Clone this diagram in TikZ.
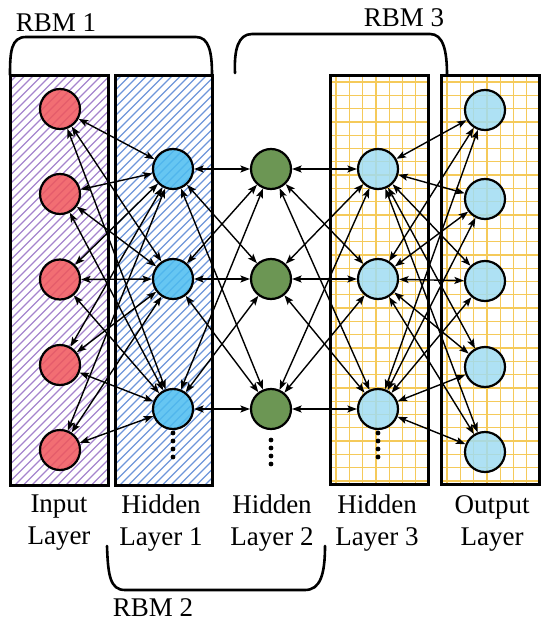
\documentclass[tikz,border=0pt]{standalone}
\usepackage{fontspec}
\setmainfont{Liberation Serif}
\usetikzlibrary{arrows.meta}
\definecolor{hatchpurple}{RGB}{165,132,205}
\definecolor{hatchblue}{RGB}{110,150,218}
\definecolor{gridyellow}{RGB}{245,202,90}
\definecolor{nodered}{RGB}{240,85,90}
\definecolor{nodeblue}{RGB}{75,188,240}
\definecolor{nodegreen}{RGB}{108,150,84}
\definecolor{nodelight}{RGB}{160,220,242}
\tikzset{
  layerbox/.style={draw=black, line width=3pt},
  neuron/.style={circle, minimum size=40pt, inner sep=0pt, draw=black, line width=2.2pt, fill opacity=0.85},
  rednode/.style={neuron, fill=nodered},
  bluenode/.style={neuron, fill=nodeblue},
  greennode/.style={neuron, fill=nodegreen, fill opacity=1},
  lightnode/.style={neuron, fill=nodelight},
  conn/.style={line width=1.4pt, {Stealth[length=9.5pt,width=7pt,inset=2pt]}-{Stealth[length=9.5pt,width=7pt,inset=2pt]}},
  brace/.style={line width=2.6pt, line cap=round},
  lbl/.style={font=\rmfamily\fontsize{27}{32}\selectfont, align=center, inner sep=0pt, anchor=north},
  rbm/.style={font=\rmfamily\fontsize{27}{32}\selectfont, inner sep=0pt, anchor=base},
  dotmark/.style={fill=black, draw=none}
}
\begin{document}
\begin{tikzpicture}[x=1pt,y=-1pt]
\useasboundingbox (0,0) rectangle (550,623);
% hatch input box
\begin{scope}
  \clip (10,76) rectangle (108,485);
  \foreach \a in {0,8.5,...,530} \draw[hatchpurple, line width=1.3pt] (10-420+\a,485) -- ++(440,-440);
\end{scope}
% hatch hidden 1
\begin{scope}
  \clip (115,76) rectangle (212,485);
  \foreach \a in {0,8.5,...,530} \draw[hatchblue, line width=1.3pt] (115-420+\a,485) -- ++(440,-440);
\end{scope}
% grids
\begin{scope}
  \clip (330,76) rectangle (428,484);
  \foreach \a in {0,13.3,...,100} \draw[gridyellow, line width=1.3pt] (336+\a,76) -- (336+\a,484);
  \foreach \a in {0,13.3,...,410} \draw[gridyellow, line width=1.3pt] (330,82+\a) -- (428,82+\a);
\end{scope}
\begin{scope}
  \clip (441,76) rectangle (539,484);
  \foreach \a in {0,13.3,...,100} \draw[gridyellow, line width=1.3pt] (447+\a,76) -- (447+\a,484);
  \foreach \a in {0,13.3,...,410} \draw[gridyellow, line width=1.3pt] (441,82+\a) -- (539,82+\a);
\end{scope}
% boxes
\draw[layerbox] (10,76) rectangle (108,485);
\draw[layerbox] (115,76) rectangle (212,485);
\draw[layerbox] (330,76) rectangle (428,484);
\draw[layerbox] (441,76) rectangle (539,484);
% neurons
\foreach \i/\y in {1/109,2/194,3/279.5,4/365,5/450} \node[rednode] (i\i) at (60,\y) {};
\foreach \i/\y in {1/169,2/279,3/409} {
  \node[bluenode] (a\i) at (173,\y) {};
  \node[greennode] (b\i) at (271,\y) {};
  \node[lightnode] (c\i) at (378,\y) {};
}
\foreach \i/\y in {1/110,2/199,3/281,4/367,5/452} \node[lightnode] (o\i) at (485,\y) {};
% connections
\foreach \p in {1,...,5} \foreach \q in {1,2,3} {
  \draw[conn] (i\p) -- (a\q);
  \draw[conn] (c\q) -- (o\p);
}
\foreach \p in {1,2,3} \foreach \q in {1,2,3} {
  \draw[conn] (a\p) -- (b\q);
  \draw[conn] (b\p) -- (c\q);
}
% dots
\foreach \x/\s in {173/433,271/440,378/433} \foreach \k in {0,1,2,3} \fill[dotmark] (\x,\s+8*\k) circle (2.4pt);
% labels
\node[lbl] (l1) at (59,495) {Input\\Layer};
\node[lbl] (l2) at (161,495) {Hidden\\Layer 1};
\node[lbl] (l3) at (272,495) {Hidden\\Layer 2};
\node[lbl] (l4) at (377,495) {Hidden\\Layer 3};
\node[lbl] (l5) at (492,495) {Output\\Layer};
% brackets
\draw[brace] (10,75) .. controls (10,52) and (11,37) .. (26,37) -- (196,37) .. controls (209,37) and (212,52) .. (212,75);
\draw[brace] (235,73) .. controls (234,50) and (238,34) .. (252,34) -- (430,34) .. controls (443,34) and (447,50) .. (447,75);
\draw[brace] (107,546) .. controls (108,575) and (110,590) .. (125,590) -- (305,590) .. controls (320,590) and (325,575) .. (325,546);
\node[rbm] (r1) at (56,32) {RBM 1};
\node[rbm] (r3) at (404,27) {RBM 3};
\node[rbm] (r2) at (153,616) {RBM 2};
\end{tikzpicture}
\end{document}
